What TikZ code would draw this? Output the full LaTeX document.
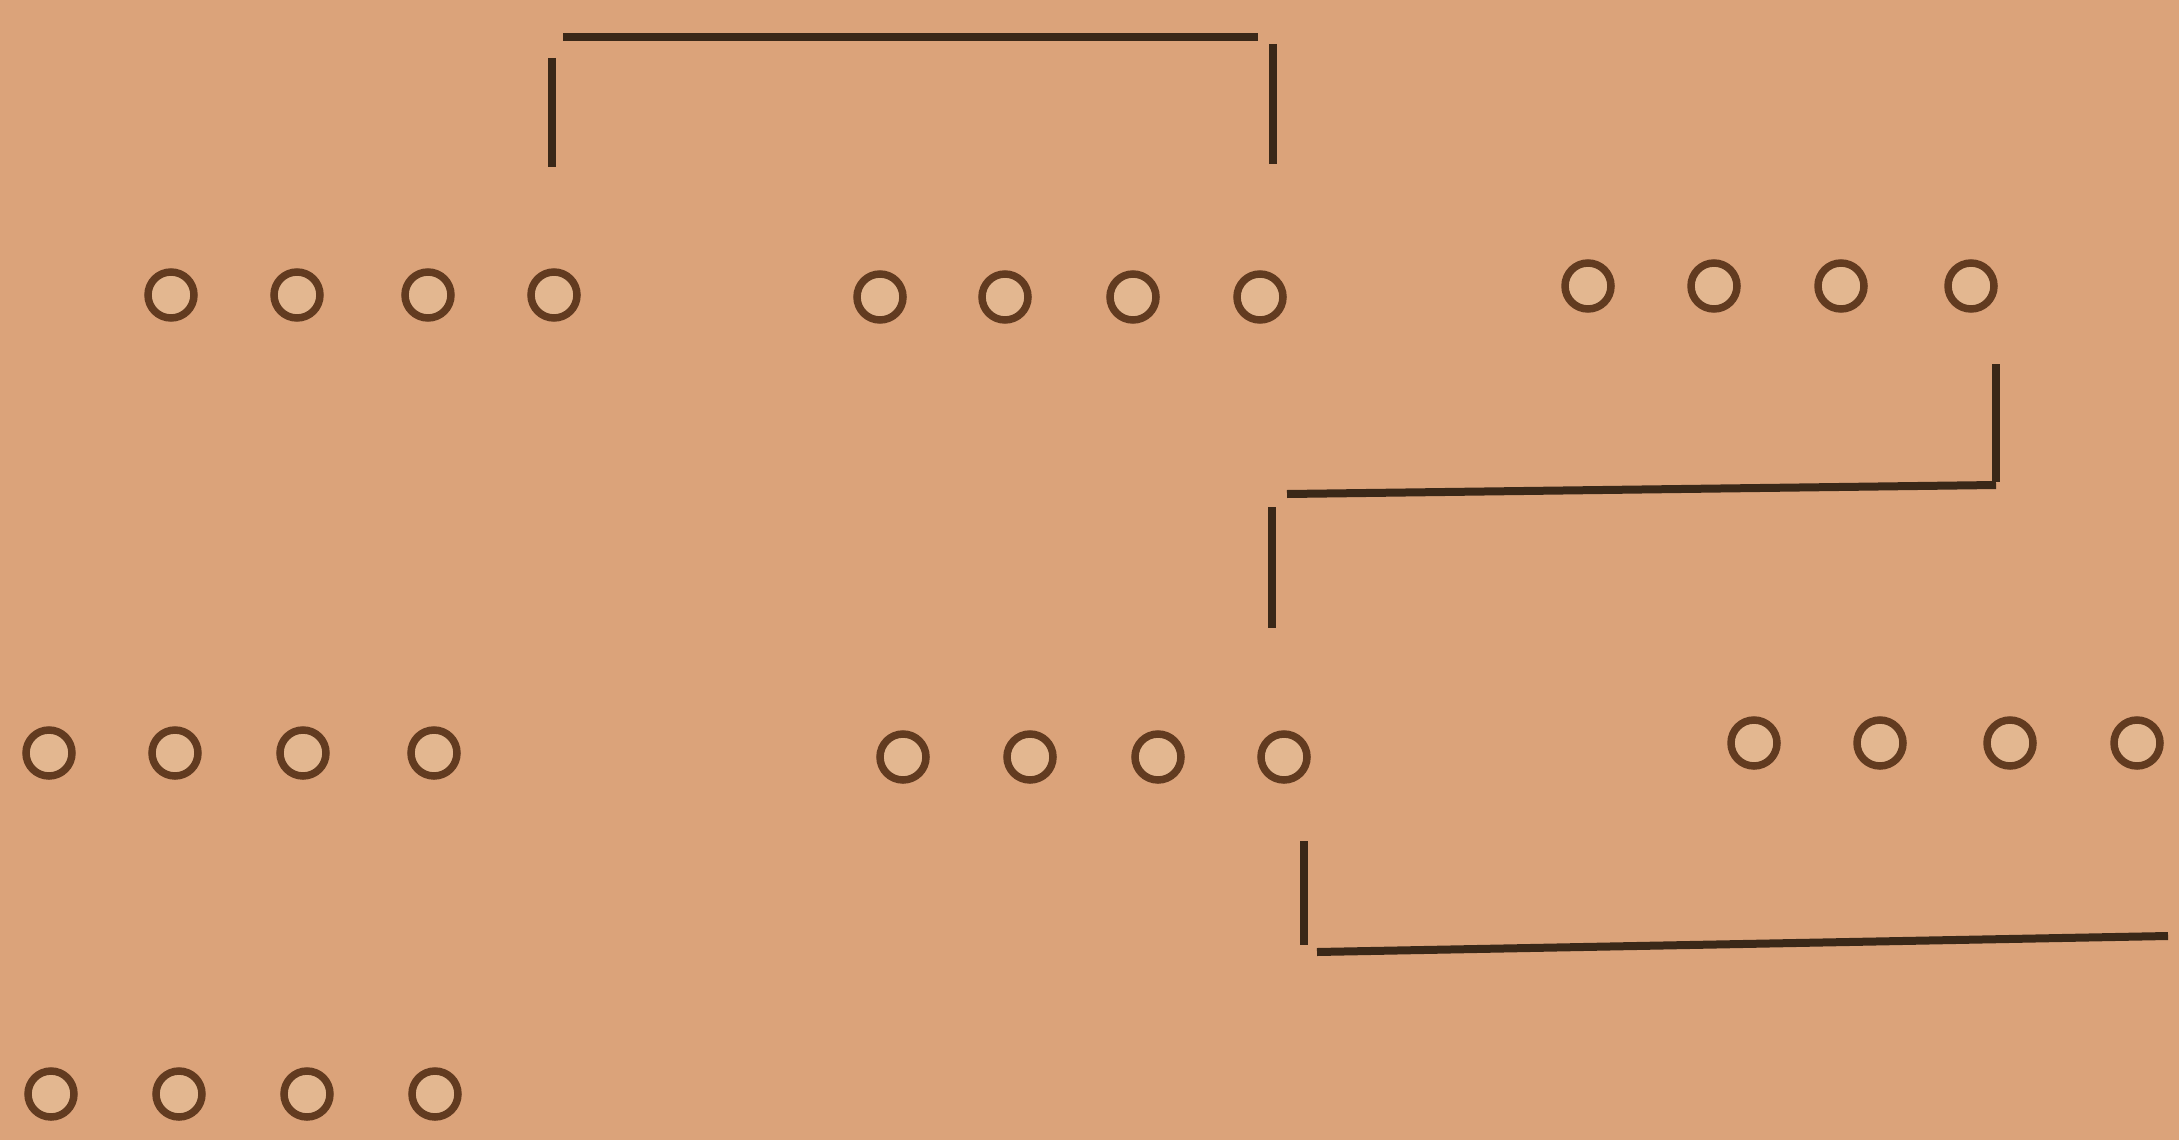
\documentclass[tikz,border=0pt]{standalone}
\begin{document}
\begin{tikzpicture}[x=1pt,y=-1pt,
  hole/.style={circle,draw=ringc,fill=holec,line width=7.5pt,minimum size=46pt,inner sep=0pt},
  bar/.style={draw=barc,line width=8pt,line cap=butt}]
\definecolor{paper}{HTML}{DBA37A}
\definecolor{ringc}{HTML}{623B20}
\definecolor{holec}{HTML}{E3B790}
\definecolor{barc}{HTML}{3A2818}
\fill[paper] (0,0) rectangle (2179,1140);
\useasboundingbox (0,0) rectangle (2179,1140);
% row 1
\foreach \n/\x in {1/171,2/297,3/428,4/554}{\node[hole] (a\n) at (\x,295) {};}
\foreach \n/\x in {1/880,2/1005,3/1133,4/1260}{\node[hole] (b\n) at (\x,297) {};}
\foreach \n/\x in {1/1588,2/1714,3/1841,4/1971}{\node[hole] (c\n) at (\x,286) {};}
% row 2
\foreach \n/\x in {1/49,2/175,3/303,4/434}{\node[hole] (d\n) at (\x,753) {};}
\foreach \n/\x in {1/903,2/1030,3/1158,4/1284}{\node[hole] (e\n) at (\x,757) {};}
\foreach \n/\x in {1/1754,2/1880,3/2010,4/2137}{\node[hole] (f\n) at (\x,743) {};}
% row 3
\foreach \n/\x in {1/51,2/179,3/307,4/435}{\node[hole] (g\n) at (\x,1094) {};}
% bracket 1
\coordinate (p1a) at (552,58); \coordinate (p1b) at (552,167);
\coordinate (p1c) at (563,37); \coordinate (p1d) at (1258,37);
\coordinate (p1e) at (1273,44); \coordinate (p1f) at (1273,164);
\draw[bar] (p1a) -- (p1b);
\draw[bar] (p1c) -- (p1d);
\draw[bar] (p1e) -- (p1f);
% bracket 2
\coordinate (p2a) at (1996,364); \coordinate (p2b) at (1996,482);
\coordinate (p2c) at (1996,485); \coordinate (p2d) at (1287,494);
\coordinate (p2e) at (1272,507); \coordinate (p2f) at (1272,628);
\draw[bar] (p2a) -- (p2b);
\draw[bar] (p2c) -- (p2d);
\draw[bar] (p2e) -- (p2f);
% bracket 3
\coordinate (p3a) at (1304,841); \coordinate (p3b) at (1304,945);
\coordinate (p3c) at (1317,952); \coordinate (p3d) at (2168,936);
\draw[bar] (p3a) -- (p3b);
\draw[bar] (p3c) -- (p3d);
\end{tikzpicture}
\end{document}
